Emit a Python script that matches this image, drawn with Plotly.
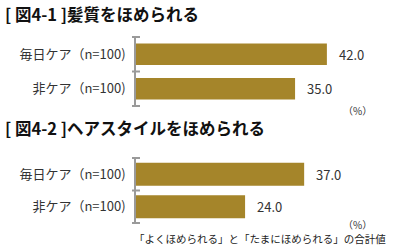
import plotly.graph_objects as go

categories = ["毎日ケア（n=100)", "非ケア（n=100)"]
values_hair = [42.0, 35.0]
values_style = [37.0, 24.0]
titles = ["[ 図4-1 ]髪質をほめられる", "[ 図4-2 ]ヘアスタイルをほめられる"]
unit_label = "（%）"
footnote = "「よくほめられる」と「たまにほめられる」の合計値"

W, H = 400, 248
BAR = "#A5852A"
AX = "#9a9a9a"
FONT = "Noto Sans CJK JP"

x0 = 136 / W
x1 = 380 / W
xmax = (380 - 136) / 4.545

def py(p):
    return 1 - p / H

fig = go.Figure()
fig.add_trace(go.Bar(y=categories, x=values_hair, orientation="h", marker_color=BAR,
                     marker_line_width=0, width=0.63, xaxis="x", yaxis="y"))
fig.add_trace(go.Bar(y=categories, x=values_style, orientation="h", marker_color=BAR,
                     marker_line_width=0, width=0.71, xaxis="x2", yaxis="y2"))

for vals, xa, ya in ((values_hair, "x", "y"), (values_style, "x2", "y2")):
    for c, v in zip(categories, vals):
        fig.add_annotation(text=f"{v:.1f}", x=v, y=c, xref=xa, yref=ya, xanchor="left",
                           xshift=10, showarrow=False,
                           font=dict(size=13, color="#333", family=FONT))

common_x = dict(range=[0, xmax], showgrid=False, zeroline=False, showticklabels=False,
                showline=False, ticks="", fixedrange=True)
common_y = dict(autorange="reversed", showgrid=False, zeroline=False, showline=True,
                linecolor=AX, linewidth=2, ticks="", tickfont=dict(size=13, color="#333", family=FONT),
                ticksuffix="  ")

fig.update_layout(
    width=W, height=H, margin=dict(l=0, r=0, t=0, b=0),
    paper_bgcolor="white", plot_bgcolor="white", showlegend=False,
    font=dict(family=FONT, color="#333"),
    xaxis=dict(domain=[x0, x1], anchor="y", **common_x),
    yaxis=dict(domain=[py(107), py(36)], anchor="x", **common_y),
    xaxis2=dict(domain=[x0, x1], anchor="y2", **common_x),
    yaxis2=dict(domain=[py(224), py(157)], anchor="x2", **common_y),
)

# crossing tick marks at category boundaries
for ya, xa in (("y", "x"), ("y2", "x2")):
    for b in (-0.5, 0.5, 1.5):
        fig.add_shape(type="line", xref=f"{xa} domain", yref=ya,
                      x0=-4 / (x1 - x0) / W, x1=4 / (x1 - x0) / W, y0=b, y1=b,
                      line=dict(color=AX, width=2))

fig.add_annotation(text=f"<b>{titles[0]}</b>", xref="paper", yref="paper", x=3 / W, y=py(14),
                   xanchor="left", yanchor="middle", showarrow=False,
                   font=dict(size=16.5, color="#111", family=FONT))
fig.add_annotation(text=f"<b>{titles[1]}</b>", xref="paper", yref="paper", x=3 / W, y=py(128),
                   xanchor="left", yanchor="middle", showarrow=False,
                   font=dict(size=16.5, color="#111", family=FONT))
fig.add_annotation(text=unit_label, xref="paper", yref="paper", x=357 / W, y=py(111),
                   xanchor="center", yanchor="middle", showarrow=False,
                   font=dict(size=10, color="#333", family=FONT))
fig.add_annotation(text=unit_label, xref="paper", yref="paper", x=357 / W, y=py(224),
                   xanchor="center", yanchor="middle", showarrow=False,
                   font=dict(size=10, color="#333", family=FONT))
fig.add_annotation(text=footnote, xref="paper", yref="paper", x=388 / W, y=py(238),
                   xanchor="right", yanchor="middle", showarrow=False,
                   font=dict(size=10.5, color="#222", family=FONT))

fig.write_html("out.html")
